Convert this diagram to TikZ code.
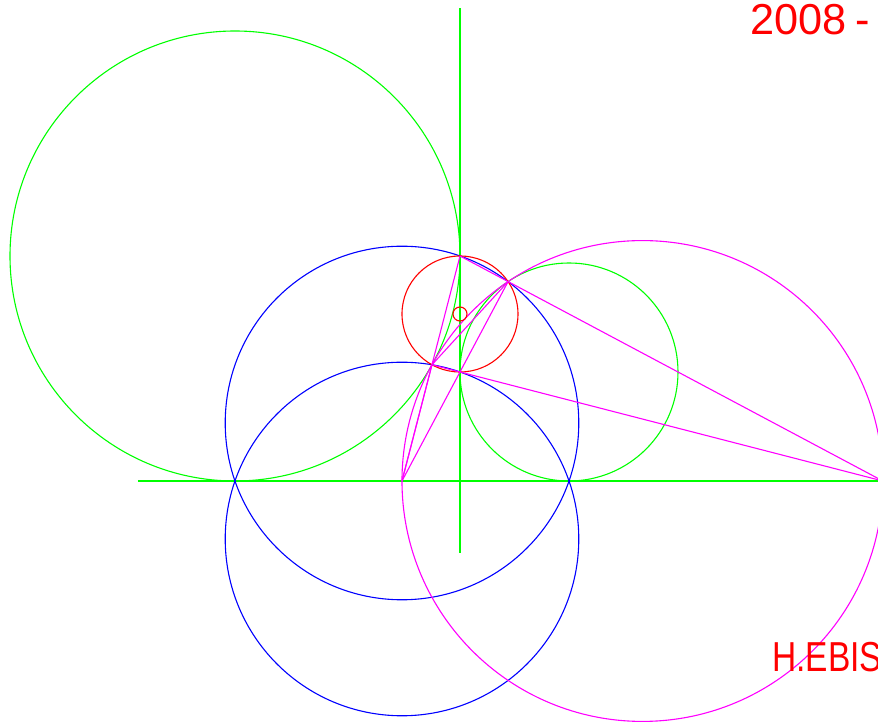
\documentclass[tikz,border=0pt]{standalone}
\usepackage{fontspec}
\setmainfont{Liberation Sans}
\definecolor{pgreen}{RGB}{0,255,0}
\definecolor{pblue}{RGB}{0,0,255}
\definecolor{pred}{RGB}{255,0,0}
\definecolor{pmag}{RGB}{255,0,255}
\tikzset{
  gline/.style={draw=pgreen,line width=0.55mm},
  bline/.style={draw=pblue,line width=0.55mm},
  rline/.style={draw=pred,line width=0.55mm},
  mline/.style={draw=pmag,line width=0.55mm},
  lbl/.style={text=pred,inner sep=0pt,outer sep=0pt,anchor=base west}
}
\begin{document}
\begin{tikzpicture}[x=0.5mm,y=0.5mm]
\fill[white] (-460,-242) rectangle (418,481);
\clip (-460,-242) rectangle (418,481);
% key points
\coordinate (O) at (0,0);
\coordinate (A) at (0,225);
\coordinate (D) at (0,109);
\coordinate (E) at (-58,0);
\coordinate (F) at (422.84,0);
\coordinate (B) at (48.10,199.40);
\coordinate (C) at (-28.04,116.23);
\coordinate (HL) at (-322,0);
\coordinate (HR) at (430,0);
\coordinate (VT) at (0,473);
\coordinate (VB) at (0,-72);
% axes
\draw[gline] (HL) -- (HR);
\draw[gline] (VB) -- (VT);
% green circles
\draw[gline] (-225,225) circle[radius=225];
\draw[gline] (109,109) circle[radius=109];
% blue circles
\draw[bline] (-58,58) circle[radius=176.78];
\draw[bline] (-58,-58) circle[radius=176.78];
% magenta circle
\draw[mline] (182.42,0) circle[radius=240.42];
% red circles
\draw[rline] (0,167) circle[radius=58];
\draw[rline] (0,167) circle[radius=7];
% magenta lines
\draw[mline] (A) -- (F);
\draw[mline] (C) -- (F);
\draw[mline] (E) -- (A);
\draw[mline] (E) -- (C);
\draw[mline] (E) -- (B);
\draw[mline] (B) -- (C);
% texts
\node[lbl,font=\fontsize{61.6}{70}\selectfont] (t1) at (290.7,446) {2008\kern4.5mm-};
\node[lbl,font=\fontsize{59.6}{68}\selectfont,xscale=0.8] (t2) at (312.4,-190.7) {H.EBIS};
\end{tikzpicture}
\end{document}
